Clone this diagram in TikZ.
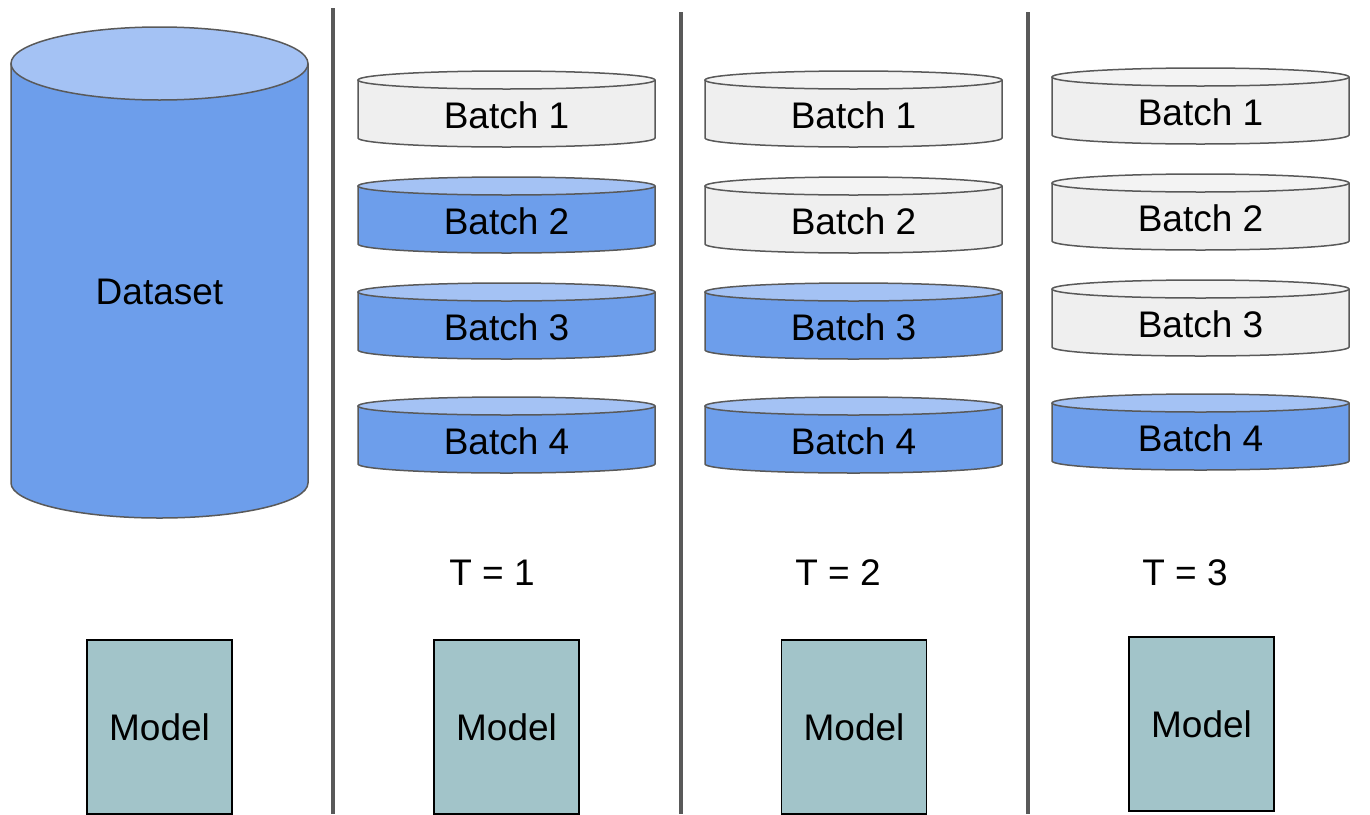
\documentclass[tikz,border=0pt]{standalone}
\usepackage{fontspec}
\setmainfont{Liberation Sans}
\usetikzlibrary{positioning}

\definecolor{bluebody}{HTML}{6D9EEB}
\definecolor{bluetop}{HTML}{A4C2F4}
\definecolor{greybody}{HTML}{EFEFEF}
\definecolor{greytop}{HTML}{F3F3F3}
\definecolor{edgegrey}{HTML}{595959}
\definecolor{modelfill}{HTML}{A2C4C9}

% disk: left x, top y, body colour, top colour, node name, label
\newcommand{\batchdisk}[6]{%
 \filldraw[fill=#3, draw=edgegrey, line width=0.75pt] (#1,-#2) -- (#1,-#2-58)
   arc[start angle=180, end angle=360, x radius=148.5, y radius=9] -- (#1+297,-#2);
 \filldraw[fill=#4, draw=edgegrey, line width=0.75pt] (#1+148.5,-#2) ellipse [x radius=148.5, y radius=9];
 \node[lbl] (#5) at (#1+148.5,-#2-35) {#6};
}

\begin{document}
\begin{tikzpicture}[x=0.5pt, y=0.5pt,
 lbl/.style={inner sep=0pt, font=\fontsize{18.5}{21}\selectfont},
 model/.style={draw=black, fill=modelfill, line width=0.6pt, minimum width=72.5pt, minimum height=87pt,
   text depth=-2pt, font=\fontsize{18.5}{21}\selectfont},
 divider/.style={draw=edgegrey, line width=2pt}]
 \useasboundingbox (0,0) rectangle (1370,-814);

 % dataset
 \filldraw[fill=bluebody, draw=edgegrey, line width=0.75pt] (11,-63.5) -- (11,-483)
   arc[start angle=180, end angle=360, x radius=148.5, y radius=35] -- (308,-63.5);
 \filldraw[fill=bluetop, draw=edgegrey, line width=0.75pt] (159.5,-63.5) ellipse [x radius=148.5, y radius=36.5];
 \node[lbl] (data) at (159.5,-292) {Dataset};

 % dividers
 \draw[divider] (333,-8) -- (333,-814);
 \draw[divider] (681,-12) -- (681,-814);
 \draw[divider] (1028,-12) -- (1028,-814);

 % T = 1
 \batchdisk{358}{80}{greybody}{greytop}{ba1}{Batch 1}
 \batchdisk{358}{186}{bluebody}{bluetop}{ba2}{Batch 2}
 \batchdisk{358}{292}{bluebody}{bluetop}{ba3}{Batch 3}
 \batchdisk{358}{406}{bluebody}{bluetop}{ba4}{Batch 4}

 % T = 2
 \batchdisk{705}{80}{greybody}{greytop}{bb1}{Batch 1}
 \batchdisk{705}{186}{greybody}{greytop}{bb2}{Batch 2}
 \batchdisk{705}{292}{bluebody}{bluetop}{bb3}{Batch 3}
 \batchdisk{705}{406}{bluebody}{bluetop}{bb4}{Batch 4}

 % T = 3
 \batchdisk{1052}{77}{greybody}{greytop}{bc1}{Batch 1}
 \batchdisk{1052}{183}{greybody}{greytop}{bc2}{Batch 2}
 \batchdisk{1052}{289}{greybody}{greytop}{bc3}{Batch 3}
 \batchdisk{1052}{403}{bluebody}{bluetop}{bc4}{Batch 4}

 \node[lbl] (t1) at (492,-573) {T = 1};
 \node[lbl] (t2) at (838,-573) {T = 2};
 \node[lbl] (t3) at (1185,-573) {T = 3};

 % models
 \node[model] (m0) at (159.5,-727) {Model};
 \node[model] (m1) at (506.5,-727) {Model};
 \node[model] (m2) at (854,-727) {Model};
 \node[model] (m3) at (1201.5,-724) {Model};
\end{tikzpicture}
\end{document}
